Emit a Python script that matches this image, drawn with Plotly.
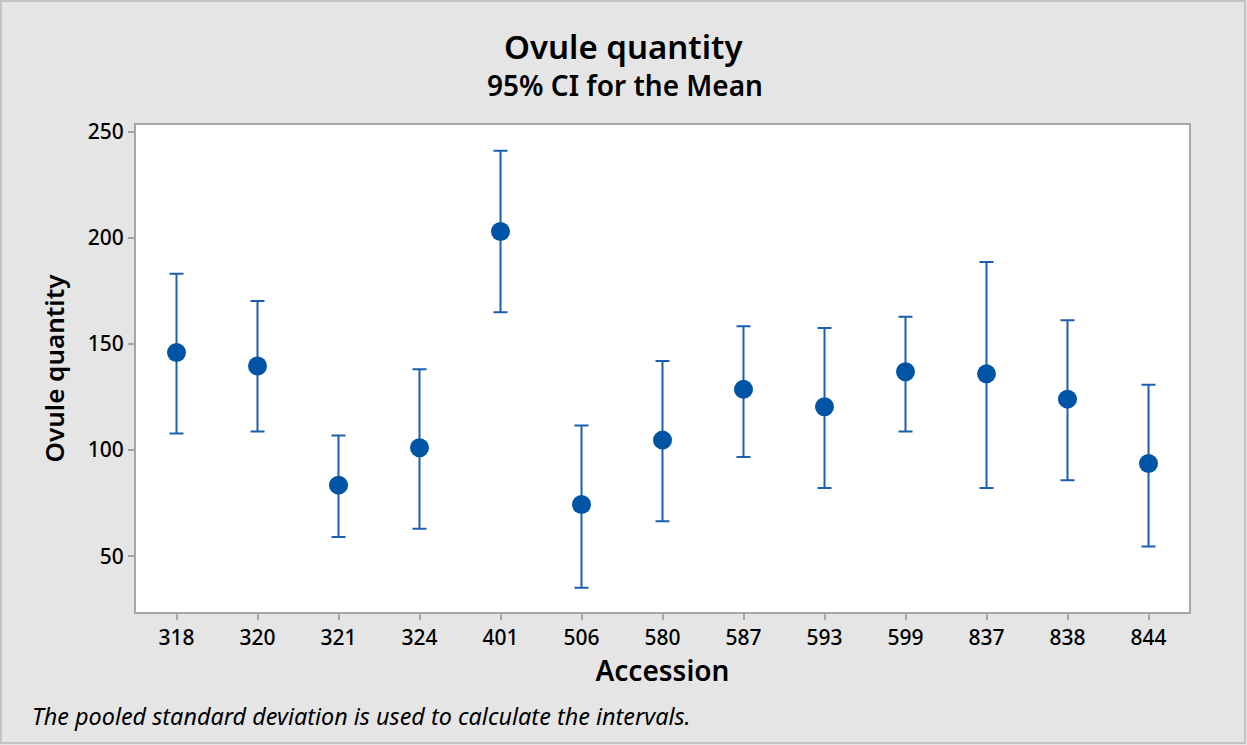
import plotly.graph_objects as go

# Accessions and 95% confidence intervals for mean ovule quantity
accessions = ["318", "320", "321", "324", "401", "506", "580", "587", "593", "599", "837", "838", "844"]
means = [146.0, 139.6, 83.5, 101.1, 202.9, 74.4, 104.7, 128.6, 120.4, 136.9, 135.9, 124.0, 93.7]
upper = [183.1, 170.2, 106.9, 138.1, 241.0, 111.6, 141.9, 158.3, 157.5, 162.8, 188.6, 161.1, 130.8]
lower = [107.8, 108.8, 59.1, 62.9, 164.9, 35.2, 66.5, 96.8, 82.1, 108.8, 82.1, 85.8, 54.6]
y_ticks = [50, 100, 150, 200, 250]

W, H = 1247, 745
ML, MR, MT, MB = 136, 58, 125, 133
PW, PH = W - ML - MR, H - MT - MB

FONT = "Noto Sans"
BLUE = "#0054A6"

fig = go.Figure()
fig.add_trace(go.Scatter(
    x=accessions,
    y=means,
    mode="markers",
    marker=dict(symbol="circle", size=19, color=BLUE),
    error_y=dict(
        type="data",
        symmetric=False,
        array=[u - m for u, m in zip(upper, means)],
        arrayminus=[m - l for m, l in zip(means, lower)],
        color="#1C5FAE",
        thickness=2,
        width=7,
    ),
    showlegend=False,
))

# Thin grey frame around the whole graphic
fig.add_shape(
    type="rect", xref="paper", yref="paper",
    x0=(1 - ML) / PW, x1=(W - 2 - ML) / PW,
    y0=-(MB - 2) / PH, y1=(H - MB - 1) / PH,
    line=dict(color="#C4C4C4", width=2), fillcolor="rgba(0,0,0,0)", layer="below",
)

fig.add_annotation(
    text="Ovule quantity", xref="paper", yref="paper",
    x=(624 - ML) / PW, y=(H - MB - 47) / PH, xanchor="center", yanchor="middle",
    showarrow=False, font=dict(family=FONT, size=33, color="#000000", weight=600),
)
fig.add_annotation(
    text="95% CI for the Mean", xref="paper", yref="paper",
    x=(625 - ML) / PW, y=(H - MB - 85) / PH, xanchor="center", yanchor="middle",
    showarrow=False, font=dict(family=FONT, size=28, color="#000000", weight=600),
)
fig.add_annotation(
    text="<i>The pooled standard deviation is used to calculate the intervals.</i>",
    xref="paper", yref="paper",
    x=(30 - ML) / PW, y=-(716 - (H - MB)) / PH, xanchor="left", yanchor="middle",
    showarrow=False, font=dict(family=FONT, size=23.4, color="#000000"),
)

fig.update_layout(
    width=W, height=H,
    margin=dict(l=ML, r=MR, t=MT, b=MB, pad=0),
    paper_bgcolor="#E5E5E5",
    plot_bgcolor="#FFFFFF",
    font=dict(family=FONT, color="#000000"),
    xaxis=dict(
        type="category",
        range=[-0.5, len(accessions) - 0.5],
        showgrid=False, zeroline=False,
        showline=True, linecolor="#A6A6A6", linewidth=2, mirror=True,
        ticks="outside", ticklen=6, tickwidth=2, tickcolor="#A6A6A6",
        tickfont=dict(size=21, family=FONT, weight=500),
        title=dict(text="Accession", font=dict(size=28, family=FONT, weight=600), standoff=7),
    ),
    yaxis=dict(
        range=[23.75, 253.1],
        tickvals=y_ticks,
        showgrid=False, zeroline=False,
        showline=True, linecolor="#A6A6A6", linewidth=2, mirror=True,
        ticks="outside", ticklen=6, tickwidth=2, tickcolor="#A6A6A6",
        tickfont=dict(size=21, family=FONT, weight=500),
        title=dict(text="Ovule quantity", font=dict(size=26, family=FONT, weight=600), standoff=16),
    ),
)

fig.write_html("out.html")
